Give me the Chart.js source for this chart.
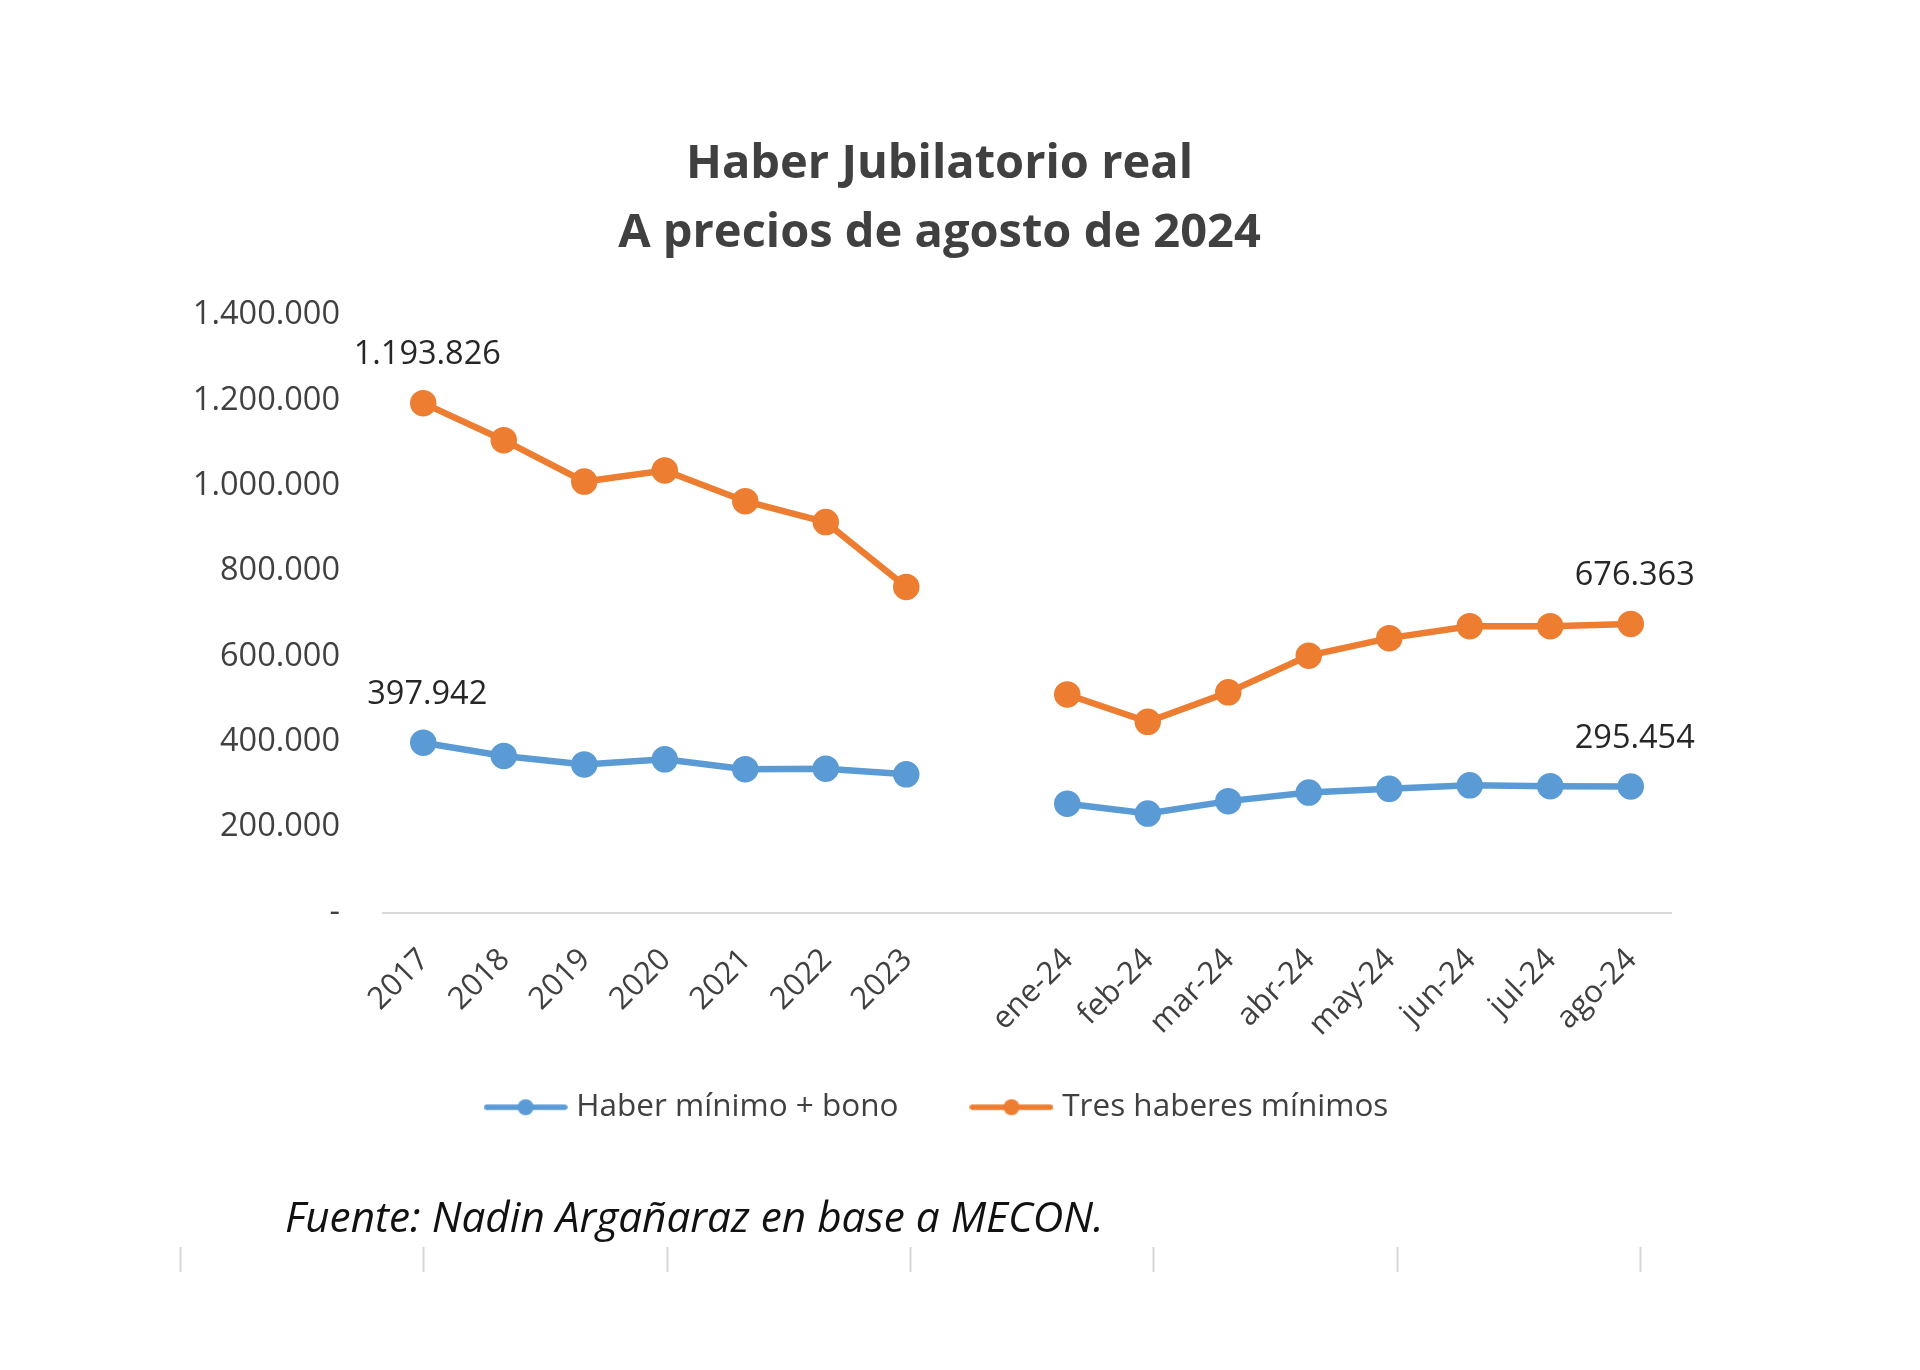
<!DOCTYPE html>
<html>
<head>
<meta charset="utf-8">
<title>Haber Jubilatorio real - A precios de agosto de 2024</title>
<script src="https://cdn.jsdelivr.net/npm/chart.js@4.4.1/dist/chart.umd.min.js"></script>
<style>
  html, body { margin: 0; padding: 0; background: #ffffff; }
  .wrap { position: relative; width: 1920px; height: 1370px; }
  #myChart { position: absolute; left: 0; top: 0; }
  /* source note under the legend */
  .fuente {
    position: absolute;
    left: 285px;
    top: 1195px;
    font-family: "Open Sans", sans-serif;
    font-style: italic;
    font-size: 42.3px;
    line-height: 42px;
    color: #111111;
    white-space: nowrap;
  }
</style>
</head>
<body>
<div class="wrap">
  <canvas id="myChart" width="1920" height="1370"></canvas>
  <div class="fuente">Fuente: Nadin Argañaraz en base a MECON.</div>
</div>
<script>
// categories (blank slot between 2023 and ene-24 leaves the gap)
const labels = ['2017', '2018', '2019', '2020', '2021', '2022', '2023', '',
  'ene-24', 'feb-24', 'mar-24', 'abr-24', 'may-24', 'jun-24', 'jul-24', 'ago-24'];

// Haber mínimo + bono
const haberBono = [397942, 367000, 347000, 359000, 336000, 337000, 324000, null,
  255000, 232000, 261000, 281000, 290000, 298000, 296000, 295454];

// Tres haberes mínimos
const tresHaberes = [1193826, 1107000, 1010000, 1036000, 964000, 915000, 763000, null,
  511000, 447000, 516000, 602000, 643000, 671000, 671000, 676363];

const yMin = 0;
const yMax = 1400000;
const yStep = 200000;

const BLUE = '#5B9BD5';
const ORANGE = '#ED7D31';
const TEXT = '#404040';
const FONT = '"Open Sans", sans-serif';

// 1.234.567 style
const fmt = (v) => String(Math.round(v)).replace(/\B(?=(\d{3})+(?!\d))/g, '.');

// legend swatch: line with a round marker, like excel
function legendMark(color) {
  const c = document.createElement('canvas');
  c.width = 84;
  c.height = 22;
  const g = c.getContext('2d');
  g.strokeStyle = color;
  g.lineWidth = 5.5;
  g.lineCap = 'round';
  g.beginPath();
  g.moveTo(3, 11);
  g.lineTo(81, 11);
  g.stroke();
  g.fillStyle = color;
  g.beginPath();
  g.arc(42, 11, 8, 0, Math.PI * 2);
  g.fill();
  return c;
}

// values above first and last point of each line
const endLabels = {
  id: 'endLabels',
  afterDatasetsDraw(chart) {
    const ctx = chart.ctx;
    ctx.save();
    ctx.font = '32.5px ' + FONT;
    ctx.fillStyle = '#262626';
    ctx.textAlign = 'center';
    ctx.textBaseline = 'middle';
    chart.data.datasets.forEach((ds, i) => {
      const meta = chart.getDatasetMeta(i);
      [0, ds.data.length - 1].forEach((j) => {
        const pt = meta.data[j];
        if (!pt || ds.data[j] == null) return;
        ctx.fillText(fmt(ds.data[j]), pt.x + 4, pt.y - 48);
      });
    });
    ctx.restore();
  }
};

// faint cell marks at the very bottom of the original screenshot
const bottomMarks = {
  id: 'bottomMarks',
  afterDraw(chart) {
    const ctx = chart.ctx;
    ctx.save();
    ctx.strokeStyle = '#d6d6d6';
    ctx.lineWidth = 2;
    for (let i = 0; i < 7; i++) {
      const x = Math.round(180 + i * 243.3) + 0.5;
      ctx.beginPath();
      ctx.moveTo(x, 1247);
      ctx.lineTo(x, 1272);
      ctx.stroke();
    }
    ctx.restore();
  }
};

const data = {
  labels,
  datasets: [
    {
      label: 'Haber mínimo + bono',
      data: haberBono,
      borderColor: BLUE,
      backgroundColor: BLUE,
      pointBackgroundColor: BLUE,
      pointBorderColor: BLUE,
      borderWidth: 6.5,
      pointRadius: 10,
      pointHoverRadius: 10,
      tension: 0,
      spanGaps: false,
    },
    {
      label: 'Tres haberes mínimos',
      data: tresHaberes,
      borderColor: ORANGE,
      backgroundColor: ORANGE,
      pointBackgroundColor: ORANGE,
      pointBorderColor: ORANGE,
      borderWidth: 6.5,
      pointRadius: 10,
      pointHoverRadius: 10,
      tension: 0,
      spanGaps: false,
    }
  ]
};

const marks = [legendMark(BLUE), legendMark(ORANGE)];

// let tick labels spill out of the (fixed size) axis box
const noLabelClip = (scale) => { scale._computeLabelArea = () => undefined; };

const config = {
  type: 'line',
  data,
  options: {
    responsive: false,
    animation: false,
    layout: {
      padding: { left: 208, right: 249, top: 0, bottom: 237 }
    },
    plugins: {
      title: {
        display: true,
        text: ['Haber Jubilatorio real', 'A precios de agosto de 2024'],
        color: TEXT,
        font: { family: FONT, size: 47, weight: 'bold', lineHeight: 1.47 },
        padding: { top: 130, bottom: 47 }
      },
      legend: {
        position: 'bottom',
        labels: {
          usePointStyle: true,
          pointStyleWidth: 70,
          padding: 78,
          color: TEXT,
          font: { family: FONT, size: 31.5 },
          generateLabels(chart) {
            const items = Chart.defaults.plugins.legend.labels.generateLabels(chart);
            items.forEach((it, i) => { it.pointStyle = marks[i]; });
            return items;
          }
        }
      },
      tooltip: { enabled: false }
    },
    scales: {
      x: {
        offset: true,
        grid: { display: false, drawTicks: false },
        border: { display: true, color: '#d9d9d9', width: 2 },
        ticks: {
          autoSkip: false,
          minRotation: 45,
          maxRotation: 45,
          padding: 29,
          labelOffset: 1,
          color: TEXT,
          font: { family: FONT, size: 31 }
        },
        afterFit(scale) { scale.height = 101; noLabelClip(scale); }
      },
      y: {
        min: yMin,
        max: yMax,
        grid: { display: false, drawTicks: false },
        border: { display: false },
        ticks: {
          stepSize: yStep,
          padding: 43,
          color: TEXT,
          font: { family: FONT, size: 32.5 },
          callback: (v) => (v === 0 ? '-' : fmt(v))
        },
        afterFit(scale) { scale.width = 175; noLabelClip(scale); }
      }
    }
  },
  plugins: [endLabels, bottomMarks]
};

const ctx = document.getElementById('myChart');
const myChart = new Chart(ctx, config);
</script>
</body>
</html>
